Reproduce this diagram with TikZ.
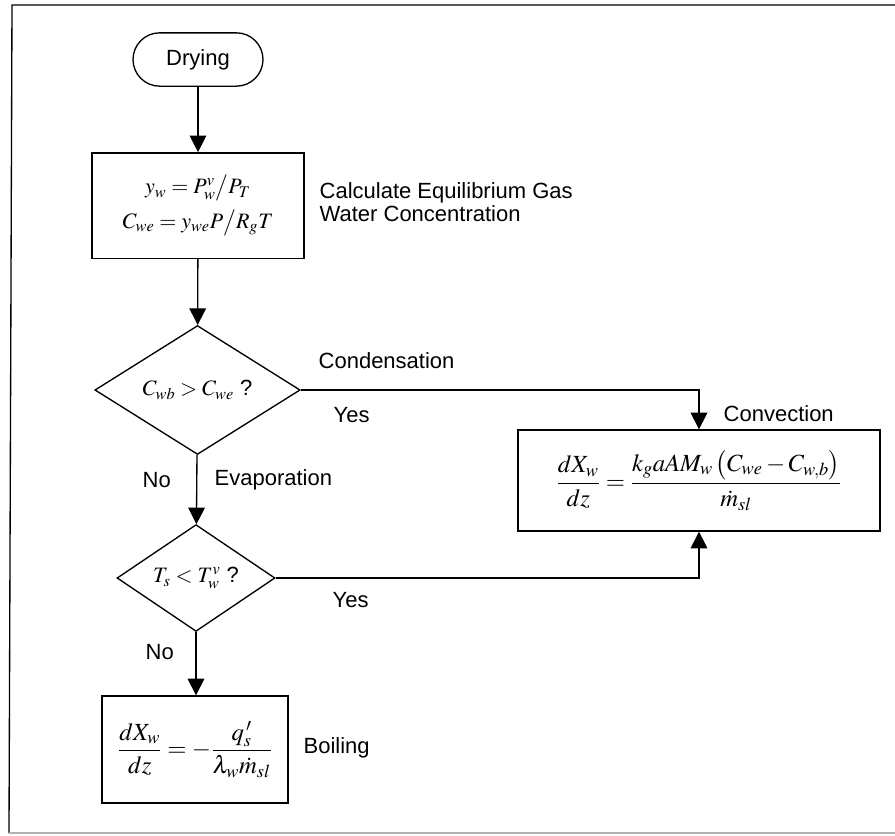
\documentclass[tikz,border=0pt]{standalone}
\usepackage{mathptmx}
\usepackage[no-math]{fontspec}
\setmainfont{Liberation Sans}
\usetikzlibrary{arrows.meta, shapes.geometric, positioning}

\begin{document}
\begin{tikzpicture}[x=0.75pt,y=-0.75pt,->,>={Triangle[width=12.5pt,length=12.5pt]},line width=1pt,
  start node/.style={rectangle,draw,rounded corners=20pt,minimum width=97.5pt,minimum height=40pt,font=\fontsize{16.5}{19}\selectfont},
  main node/.style={rectangle,draw,align=center,inner sep=0pt,font=\fontsize{16.5}{19}\selectfont},
  rate node/.style={main node,font=\fontsize{18.5}{22}\selectfont},
  test node/.style={diamond,draw,inner sep=0pt,minimum height=76.5pt,font=\fontsize{16.5}{19}\selectfont},
  note node/.style={anchor=west,align=left,inner sep=0pt,font=\fontsize{16.5}{17.25}\selectfont}]

  \useasboundingbox (0,0) rectangle (895,835);
  \draw[-] (895,5) -- (12,5) -- (9,833);
  \draw[-,gray!60] (9,833) -- (895,833);

  \node[start node] (dry) at (198,59.5) {Drying};
  \node[main node, minimum width=159pt, minimum height=79pt] (eq) at (198,205.5)
    {$y_w = P_w^v\big/P_T$\\[5pt]$C_{we} = y_{we}P\big/R_gT$};
  \node[test node, minimum width=154pt] (cond) at (197.5,390) {$C_{wb} > C_{we}$ ?};
  \node[test node, minimum width=118.5pt] (boil) at (196,578) {$T_s < T_w^v$ ?};
  \node[rate node, minimum width=271.5pt, minimum height=75.75pt] (conv) at (699,480.5)
    {$\displaystyle\frac{dX_w}{dz} = \frac{k_g aAM_w\left(C_{we}-C_{w,b}\right)}{\dot{m}_{sl}}$};
  \node[rate node, minimum width=139.5pt, minimum height=80.25pt] (bdry) at (195,749.5)
    {$\displaystyle\frac{dX_w}{dz} = -\frac{q_s^{\,\prime}}{\lambda_w\dot{m}_{sl}}$};

  % side texts
  \node[note node] (eqtxt) at (319,202.5) {Calculate Equilibrium Gas\\Water Concentration};
  \node[note node] (condtxt) at (318,361) {Condensation};
  \node[note node] (yes1) at (333,415) {Yes};
  \node[note node] (convtxt) at (723,414) {Convection};
  \node[note node] (no1) at (142,480) {No};
  \node[note node] (evaptxt) at (214,480) {Evaporation};
  \node[note node] (yes2) at (332,600) {Yes};
  \node[note node] (no2) at (145,652) {No};
  \node[note node] (boiltxt) at (303,748) {Boiling};

  \path[->]
       (dry) edge (eq)
       (eq) edge (cond)
       (cond) edge (boil)
       (boil.south) edge (boil.south |- bdry.north);

  \draw[->] (cond.east) -| (conv.north);
  \draw[->] (boil.east) -| (conv.south);
\end{tikzpicture}
\end{document}
